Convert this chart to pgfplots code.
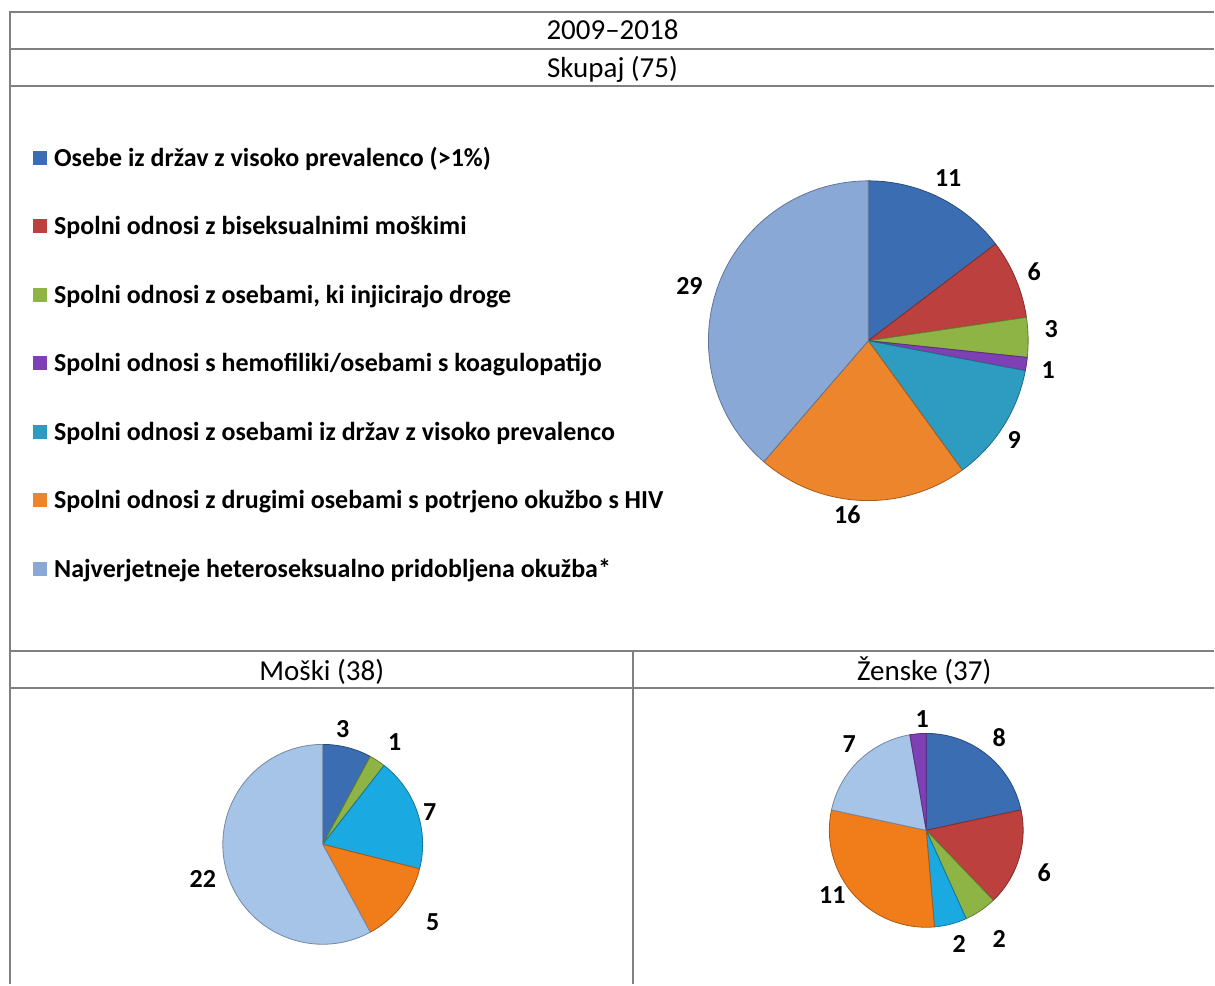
\documentclass[border=0pt]{standalone}
\usepackage{pgfplots}
\pgfplotsset{compat=1.18}
\usepackage{pgfplotstable}
\usepackage{fontspec}
\setmainfont{Carlito}

\definecolor{gridgray}{HTML}{808080}
\definecolor{cBlue}{HTML}{3B6DB3}
\definecolor{cRed}{HTML}{BC403D}
\definecolor{cGreen}{HTML}{8DB445}
\definecolor{cPurple}{HTML}{7F3FB5}
\definecolor{cTeal}{HTML}{2E9CC0}
\definecolor{cOrange}{HTML}{EC852C}
\definecolor{cLight}{HTML}{8AA8D6}
\definecolor{cCyan}{HTML}{1BA9E1}
\definecolor{cOrangeB}{HTML}{F07D1A}
\definecolor{cLightB}{HTML}{A6C3E8}

% total (75)
\pgfplotstableread{
val col lx ly
11 cBlue 949 178
6 cRed 1035 272
3 cGreen 1052 329
1 cPurple 1049 370
9 cTeal 1015 440
16 cOrange 848 515
29 cLight 690 286
}\tabAll
% men (38)
\pgfplotstableread{
val col lx ly
3 cBlue 343 730
1 cGreen 395 743
7 cCyan 430 813
5 cOrangeB 433 923
22 cLightB 203 880
}\tabMen
% women (37)
\pgfplotstableread{
val col lx ly
8 cBlue 1000 738
6 cRed 1045 873
2 cGreen 1000 940
2 cCyan 960 945
11 cOrangeB 833 896
7 cLightB 850 745
1 cPurple 923 720
}\tabWomen

\newcommand{\drawpie}[4]{%
  \pgfplotstablegetrowsof{#1}%
  \pgfmathtruncatemacro\lastrow{\pgfplotsretval-1}%
  \def\pietot{0}%
  \pgfplotsforeachungrouped \i in {0,...,\lastrow}{%
    \pgfplotstablegetelem{\i}{val}\of{#1}%
    \pgfmathsetmacro\pietot{\pietot+\pgfplotsretval}%
  }%
  \def\piecum{0}%
  \pgfplotsforeachungrouped \i in {0,...,\lastrow}{%
    \pgfplotstablegetelem{\i}{val}\of{#1}\let\pv\pgfplotsretval
    \pgfplotstablegetelem{\i}{col}\of{#1}\let\pc\pgfplotsretval
    \pgfplotstablegetelem{\i}{lx}\of{#1}\let\plx\pgfplotsretval
    \pgfplotstablegetelem{\i}{ly}\of{#1}\let\ply\pgfplotsretval
    \pgfmathsetmacro\aS{90-\piecum/\pietot*360}%
    \pgfmathsetmacro\aE{90-(\piecum+\pv)/\pietot*360}%
    \pgfmathsetmacro\piecum{\piecum+\pv}%
    \edef\tmp{\noexpand\filldraw[fill=\pc, draw=\pc!70!black, line width=0.8pt, line join=round]
      (axis cs:#2,#3) -- ++(\aS:#4pt) arc[start angle=\aS, end angle=\aE, radius=#4pt] -- cycle;
      \noexpand\node[lbl] at (axis cs:\plx,\ply) {\pv};}%
    \tmp
  }%
}

\begin{document}
\begin{tikzpicture}[
  lbl/.style={font=\fontsize{26}{30}\selectfont\bfseries, inner sep=0pt},
  hdr/.style={font=\fontsize{29}{34}\selectfont, anchor=base, inner sep=0pt},
  leg/.style={font=\fontsize{26}{30}\selectfont\bfseries, anchor=base west, inner sep=0pt},
]
\begin{axis}[
  scale only axis, width=1215pt, height=985pt,
  xmin=0, xmax=1215, ymin=0, ymax=985, y dir=reverse,
  hide axis, clip=false,
]
% keep the full frame as bounding box
\path (axis cs:0,0) (axis cs:1215,985);
% table grid
\draw[gridgray, line width=2pt] (axis cs:10,12) -- (axis cs:1215,12);
\draw[gridgray, line width=2pt] (axis cs:10,49) -- (axis cs:1215,49);
\draw[gridgray, line width=2pt] (axis cs:10,86) -- (axis cs:1215,86);
\draw[gridgray, line width=2pt] (axis cs:10,652) -- (axis cs:1215,652);
\draw[gridgray, line width=2pt] (axis cs:10,689) -- (axis cs:1215,689);
\draw[gridgray, line width=2pt] (axis cs:10,11) -- (axis cs:10,985);
\draw[gridgray, line width=2pt] (axis cs:634,652) -- (axis cs:634,985);

% headers
\node[hdr] at (axis cs:613,40) {2009–2018};
\node[hdr] at (axis cs:613,78) {Skupaj (75)};
\node[hdr] at (axis cs:322,681) {Moški (38)};
\node[hdr] at (axis cs:925,681) {Ženske (37)};

% legend
\fill[cBlue]   (axis cs:33,151) rectangle (axis cs:47,165);
\node[leg] at (axis cs:54,167) {Osebe iz držav z visoko prevalenco (>1\%)};
\fill[cRed]    (axis cs:33,219) rectangle (axis cs:47,233);
\node[leg] at (axis cs:54,235) {Spolni odnosi z biseksualnimi moškimi};
\fill[cGreen]  (axis cs:33,288) rectangle (axis cs:47,302);
\node[leg] at (axis cs:54,304) {Spolni odnosi z osebami, ki injicirajo droge};
\fill[cPurple] (axis cs:33,356) rectangle (axis cs:47,370);
\node[leg] at (axis cs:54,372) {Spolni odnosi s hemofiliki/osebami s koagulopatijo};
\fill[cTeal]   (axis cs:33,425) rectangle (axis cs:47,439);
\node[leg] at (axis cs:54,441) {Spolni odnosi z osebami iz držav z visoko prevalenco};
\fill[cOrange] (axis cs:33,493) rectangle (axis cs:47,507);
\node[leg] at (axis cs:54,509) {Spolni odnosi z drugimi osebami s potrjeno okužbo s HIV};
\fill[cLight]  (axis cs:33,562) rectangle (axis cs:47,576);
\node[leg] at (axis cs:54,578) {Najverjetneje heteroseksualno pridobljena okužba*};

% pies
\drawpie{\tabAll}{869}{341}{160}
\drawpie{\tabMen}{323}{845}{100}
\drawpie{\tabWomen}{927}{831}{97}
\end{axis}
\end{tikzpicture}
\end{document}
